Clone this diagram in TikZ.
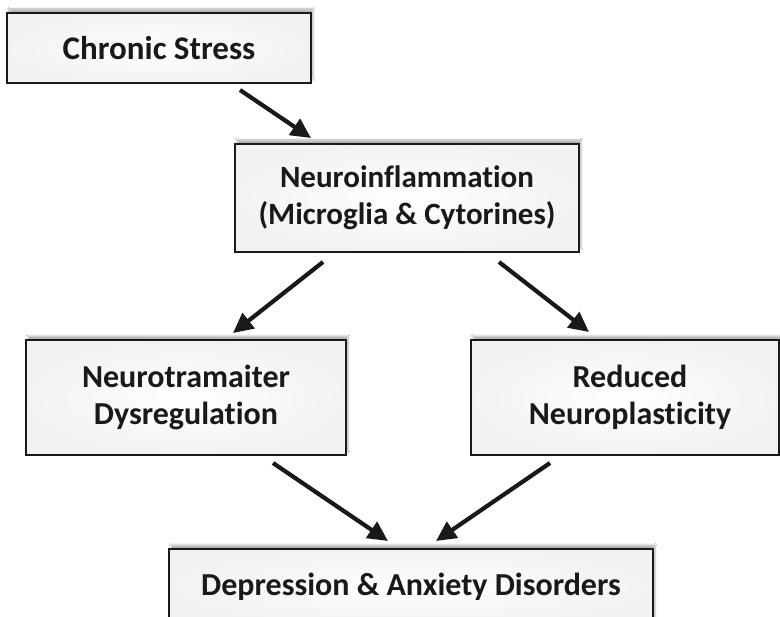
\documentclass[tikz,border=0pt]{standalone}
\usepackage{fontspec}
\setmainfont[Ligatures={NoCommon}]{Carlito}
\usetikzlibrary{arrows.meta,shadows.blur}
\tikzset{
  box/.style={draw=black!90, line width=2.4pt, rectangle, inner color=white, outer color=black!5,
    blur shadow={shadow xshift=2pt, shadow yshift=4pt, shadow blur steps=6, shadow opacity=30},
    align=center, font=\bfseries\fontsize{32}{37}\selectfont, text=black!90},
  flow/.style={line width=4.2pt, draw=black!90, -{Triangle[length=20pt,width=19pt]}}
}
\begin{document}
\begin{tikzpicture}[x=1pt,y=-1pt]
\clip (0,0) rectangle (780,617);
\fill[white] (0,0) rectangle (780,617);
\node[box, minimum width=304pt, minimum height=70pt, font=\bfseries\fontsize{33}{37}\selectfont] (cs) at (159,48) {Chronic Stress};
\node[box, minimum width=344pt, minimum height=108pt, font=\bfseries\fontsize{31}{37}\selectfont] (ni) at (407,198) {Neuroinflammation\\(Microglia \& Cytorines)};
\node[box, minimum width=320pt, minimum height=115pt] (nd) at (186,397.5) {Neurotramaiter\\Dysregulation};
\node[box, minimum width=308pt, minimum height=115pt, xshift=0pt] (rn) at (625,397.5) {\hspace*{10pt}Reduced\\\hspace*{10pt}Neuroplasticity};
\node[box, minimum width=484pt, minimum height=76pt] (da) at (411,587) {Depression \& Anxiety Disorders};
\coordinate (a1s) at (240,90);  \coordinate (a1e) at (311,138);
\coordinate (a2s) at (323,262); \coordinate (a2e) at (233,333);
\coordinate (a3s) at (499,262); \coordinate (a3e) at (589,332);
\coordinate (a4s) at (273,463); \coordinate (a4e) at (388,541);
\coordinate (a5s) at (550,463); \coordinate (a5e) at (436,541);
\draw[flow] (a1s) -- (a1e);
\draw[flow] (a2s) -- (a2e);
\draw[flow] (a3s) -- (a3e);
\draw[flow] (a4s) -- (a4e);
\draw[flow] (a5s) -- (a5e);
\end{tikzpicture}
\end{document}
